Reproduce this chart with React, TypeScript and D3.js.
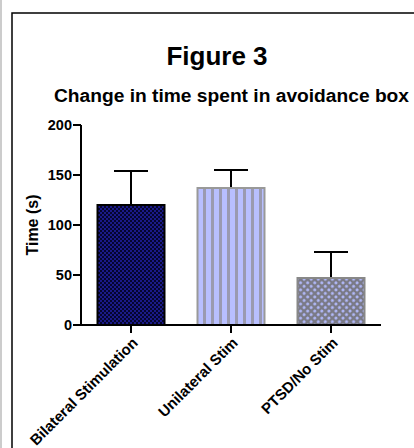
import * as d3 from "d3";
import React from "react";

const categories = ["Bilateral Stimulation", "Unilateral Stim", "PTSD/No Stim"];
const means = [120, 137, 47];
const errors = [34, 18, 26];
const yTicks = [0, 50, 100, 150, 200];

const fills = ["url(#checker)", "url(#stripes)", "url(#dots)"];
const strokes = ["#000", "#999", "#888"];

const App: React.FC = () => {
  const width = 414;
  const height = 448;
  const left = 81;
  const right = 381;
  const top = 125;
  const bottom = 325;

  const x = d3.scaleBand<string>().domain(categories).range([left, right]).paddingInner(0.33).paddingOuter(0.165);
  const y = d3.scaleLinear().domain([0, 200]).range([bottom, top]);
  const font = "Liberation Sans, Arial, sans-serif";

  return (
    <svg width={width} height={height} style={{ position: "absolute", left: 0, top: 0, background: "#fff" }}>
      <defs>
        <pattern id="checker" width="4" height="4" patternUnits="userSpaceOnUse">
          <rect width="4" height="4" fill="#05052e" />
          <rect width="2" height="2" fill="#1a1a88" />
          <rect x="2" y="2" width="2" height="2" fill="#1a1a88" />
        </pattern>
        <pattern id="stripes" width="8" height="8" patternUnits="userSpaceOnUse" x="198">
          <rect width="8" height="8" fill="#b8bfff" />
          <rect x="5" width="3" height="8" fill="#9a9ab0" />
        </pattern>
        <pattern id="dots" width="5" height="5" patternUnits="userSpaceOnUse" patternTransform="rotate(45)">
          <rect width="5" height="5" fill="#7a7a86" />
          <circle cx="2.5" cy="2.5" r="1.4" fill="#b4bcff" />
        </pattern>
      </defs>

      <line x1={1} x2={1} y1={0} y2={height} stroke="#ccc" strokeWidth={2} />
      <rect x={12} y={13} width={420} height={460} fill="none" stroke="#000" strokeWidth={1.5} />

      <text x={217} y={65} textAnchor="middle" fontFamily={font} fontWeight="bold" fontSize={26}>Figure 3</text>
      <text x={231.5} y={102} textAnchor="middle" fontFamily={font} fontWeight="bold" fontSize={19.2}>Change in time spent in avoidance box</text>

      {categories.map((c, i) => {
        const cx = x(c)! + x.bandwidth() / 2;
        return (
          <g key={c}>
            <line x1={cx} x2={cx} y1={y(means[i])} y2={y(means[i] + errors[i])} stroke="#000" strokeWidth={2} />
            <line x1={cx - 17} x2={cx + 17} y1={y(means[i] + errors[i])} y2={y(means[i] + errors[i])} stroke="#000" strokeWidth={2} />
            <rect x={x(c)!} y={y(means[i])} width={x.bandwidth()} height={bottom - y(means[i])}
              fill={fills[i]} stroke={strokes[i]} strokeWidth={2} />
          </g>
        );
      })}

      <line x1={left} x2={left} y1={top} y2={bottom} stroke="#000" strokeWidth={2} />
      <line x1={left} x2={right} y1={bottom} y2={bottom} stroke="#000" strokeWidth={2} />
      {yTicks.map(t => (
        <g key={t}>
          <line x1={left - 8} x2={left} y1={y(t)} y2={y(t)} stroke="#000" strokeWidth={2} />
          <text x={left - 9} y={y(t)} dy="0.35em" textAnchor="end" fontFamily={font} fontWeight="bold" fontSize={14.5}>{t}</text>
        </g>
      ))}
      {categories.map(c => {
        const cx = x(c)! + x.bandwidth() / 2;
        return (
          <g key={c}>
            <line x1={cx} x2={cx} y1={bottom} y2={bottom + 8} stroke="#000" strokeWidth={2} />
            <text transform={`translate(${cx + 4},${bottom + 15}) rotate(-45)`} textAnchor="end" dy="0.35em"
              fontFamily={font} fontWeight="bold" fontSize={15}>{c}</text>
          </g>
        );
      })}
      <text transform={`translate(32,${(top + bottom) / 2}) rotate(-90)`} textAnchor="middle" dy="0.35em"
        fontFamily={font} fontWeight="bold" fontSize={16}>Time (s)</text>
    </svg>
  );
};

export default App;
